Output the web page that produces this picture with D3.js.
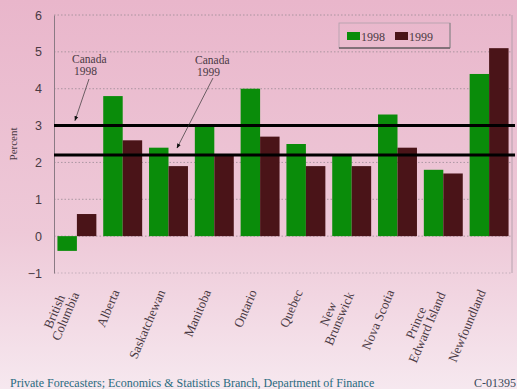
<!DOCTYPE html>
<html>
<head>
<meta charset="utf-8">
<script src="https://cdn.jsdelivr.net/npm/d3@7"></script>
<style>
  html, body { margin: 0; padding: 0; background: #f3dce6; }
  svg { display: block; }
  svg text { font-family: "Liberation Serif", "DejaVu Serif", serif; }
</style>
</head>
<body>
<svg id="chart" width="517" height="389" font-family="Liberation Serif, serif"></svg>
<script>
// Provincial real GDP growth forecasts, percent
const provinces = ["British Columbia", "Alberta", "Saskatchewan", "Manitoba", "Ontario",
  "Quebec", "New Brunswick", "Nova Scotia", "Prince Edward Island", "Newfoundland"];
const provinceLabels = [["British", "Columbia"], ["Alberta"], ["Saskatchewan"], ["Manitoba"], ["Ontario"],
  ["Quebec"], ["New", "Brunswick"], ["Nova Scotia"], ["Prince", "Edward Island"], ["Newfoundland"]];
const growth1998 = [-0.4, 3.8, 2.4, 3.0, 4.0, 2.5, 2.2, 3.3, 1.8, 4.4];
const growth1999 = [0.6, 2.6, 1.9, 2.2, 2.7, 1.9, 1.9, 2.4, 1.7, 5.1];
const canada = [{ year: "1998", value: 3.0 }, { year: "1999", value: 2.2 }];
const yTicks = [-1, 0, 1, 2, 3, 4, 5, 6];
const seriesNames = ["1998", "1999"];
const seriesColors = ["#0a8c0a", "#4a1418"];

const svg = d3.select("#chart");
const W = 517, H = 389;
const plot = { left: 54, right: 512, top: 15, bottom: 273 };

// Background wash, pink at the top fading lighter toward the bottom
const defs = svg.append("defs");
const grad = defs.append("linearGradient").attr("id", "bg").attr("x1", 0).attr("y1", 0).attr("x2", 0).attr("y2", 1);
grad.append("stop").attr("offset", "0%").attr("stop-color", "#e9b6cb");
grad.append("stop").attr("offset", "60%").attr("stop-color", "#eec9d8");
grad.append("stop").attr("offset", "100%").attr("stop-color", "#f6e8ef");
svg.append("rect").attr("width", W).attr("height", H).attr("fill", "url(#bg)");

const x = d3.scaleBand().domain(provinces).range([plot.left, plot.right]).paddingInner(0.15).paddingOuter(0.075);
const xs = d3.scaleBand().domain(seriesNames).range([0, x.bandwidth()]);
const y = d3.scaleLinear().domain([-1, 6]).range([plot.bottom, plot.top]);

// Dotted gridlines
svg.append("g").selectAll("line").data(yTicks.filter(t => t !== -1)).join("line")
  .attr("x1", plot.left).attr("x2", plot.right)
  .attr("y1", d => y(d)).attr("y2", d => y(d))
  .attr("stroke", "#9a8a94").attr("stroke-width", 0.8).attr("stroke-dasharray", "1.5,2");
svg.append("line").attr("x1", plot.right).attr("x2", plot.right).attr("y1", plot.top).attr("y2", plot.bottom)
  .attr("stroke", "#a89aa4").attr("stroke-width", 0.8);
svg.append("line").attr("x1", plot.left).attr("x2", plot.right).attr("y1", plot.bottom).attr("y2", plot.bottom)
  .attr("stroke", "#a89aa4").attr("stroke-width", 0.6).attr("stroke-dasharray", "1.5,2");

// Y axis
const yAxis = d3.axisLeft(y).tickValues(yTicks).tickSize(0).tickPadding(12).tickFormat(d3.format("d"));
const gy = svg.append("g").attr("transform", `translate(${plot.left},0)`).call(yAxis)
  .attr("font-family", "Liberation Sans, Arial, sans-serif");
gy.select(".domain").attr("stroke", "#8a7a84").attr("stroke-width", 1);
gy.selectAll("text").style("font-family", "Liberation Sans, Arial, sans-serif").attr("font-size", 12.5).attr("fill", "#4a3a44");

svg.append("text").attr("transform", `translate(17,${y(2.5)}) rotate(-90)`)
  .attr("text-anchor", "middle").attr("font-size", 11).attr("fill", "#4a3a44").text("Percent");

// Bars
const rows = provinces.map((p, i) => ({ p, vals: [growth1998[i], growth1999[i]] }));
const groups = svg.append("g").selectAll("g").data(rows).join("g")
  .attr("transform", d => `translate(${x(d.p)},0)`);
groups.selectAll("rect").data(d => d.vals.map((v, j) => ({ v, s: seriesNames[j], c: seriesColors[j] }))).join("rect")
  .attr("x", d => xs(d.s))
  .attr("width", xs.bandwidth())
  .attr("y", d => y(Math.max(0, d.v)))
  .attr("height", d => Math.abs(y(d.v) - y(0)))
  .attr("fill", d => d.c);

// Canada reference lines
svg.append("g").selectAll("line").data(canada).join("line")
  .attr("x1", plot.left).attr("x2", plot.right + 3)
  .attr("y1", d => y(d.value)).attr("y2", d => y(d.value))
  .attr("stroke", "#000").attr("stroke-width", 3);

// Annotations with arrows
defs.append("marker").attr("id", "arrow").attr("viewBox", "0 0 10 10").attr("refX", 9).attr("refY", 5)
  .attr("markerWidth", 7).attr("markerHeight", 7).attr("orient", "auto")
  .append("path").attr("d", "M0,1 L10,5 L0,9 Z").attr("fill", "#111");

const notes = [
  { lines: ["Canada", "1998"], tx: 72, ty: 63, from: [89, 79], to: y => [75, y(canada[0].value) - 5] },
  { lines: ["Canada", "1999"], tx: 195, ty: 64, from: [213, 78], to: y => [177, y(canada[1].value) - 7] }
];
notes.forEach(n => {
  const t = svg.append("text").attr("font-size", 11.5).attr("fill", "#4a3a44");
  n.lines.forEach((l, i) => t.append("tspan").attr("x", n.tx + (i ? 2 : 0)).attr("y", n.ty + i * 12).text(l));
  const end = n.to(y);
  svg.append("line").attr("x1", n.from[0]).attr("y1", n.from[1]).attr("x2", end[0]).attr("y2", end[1])
    .attr("stroke", "#333").attr("stroke-width", 0.7).attr("marker-end", "url(#arrow)");
});

// Legend
const lg = svg.append("g").attr("transform", "translate(339,23)");
lg.append("rect").attr("width", 111).attr("height", 25).attr("fill", "none").attr("stroke", "#b0a0aa").attr("stroke-width", 0.8);
lg.append("line").attr("x1", 0).attr("x2", 111).attr("y1", 25).attr("y2", 25).attr("stroke", "#333").attr("stroke-width", 1);
lg.append("line").attr("x1", 111).attr("x2", 111).attr("y1", 0).attr("y2", 25).attr("stroke", "#777").attr("stroke-width", 0.8);
seriesNames.forEach((s, i) => {
  const g = lg.append("g").attr("transform", `translate(${8 + i * 48},9)`);
  g.append("rect").attr("width", 13).attr("height", 8).attr("fill", seriesColors[i]);
  g.append("text").attr("x", 14).attr("y", 9).attr("font-size", 12).attr("fill", "#4a3a44").text(s);
});

// Rotated category labels; lines of a two-line label are centred on each other,
// the first line sitting above-left of the second
const lineGap = 12;
const lab = svg.append("g").selectAll("text").data(provinces).join("text")
  .attr("transform", d => `translate(${x(d) + x.bandwidth() / 2 - 3},${plot.bottom + 19}) rotate(-67)`)
  .attr("font-size", 13).attr("fill", "#4a3a44");
lab.each(function (d, i) {
  const ls = provinceLabels[i];
  const sel = d3.select(this);
  const spans = ls.map((l, k) => sel.append("tspan")
    .attr("y", ls.length > 1 ? (k - (ls.length - 1) / 2) * lineGap : 0).text(l));
  const widths = spans.map(s => s.node().getComputedTextLength());
  const maxW = d3.max(widths);
  spans.forEach(s => s.attr("x", -maxW / 2).attr("text-anchor", "middle"));
});

// Footer
svg.append("text").attr("x", 10).attr("y", 387).attr("font-size", 12).attr("fill", "#2a6b80")
  .text("Private Forecasters; Economics & Statistics Branch, Department of Finance");
svg.append("text").attr("x", 516).attr("y", 387).attr("text-anchor", "end").attr("font-size", 12).attr("fill", "#3a4a5a")
  .text("C-01395");
</script>
</body>
</html>
